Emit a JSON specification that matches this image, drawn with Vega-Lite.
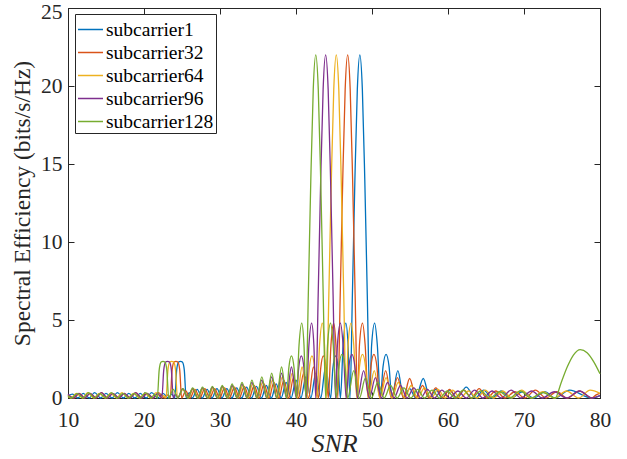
{
  "$schema": "https://vega.github.io/schema/vega-lite/v6.json",
  "width": 532,
  "height": 390,
  "autosize": {"type": "none"},
  "padding": {"left": 68, "top": 8, "right": 27, "bottom": 61},
  "background": "white",
  "config": {
    "font": "Liberation Serif, Times New Roman, Times, serif",
    "view": {"stroke": "#262626", "strokeWidth": 1},
    "axis": {
      "grid": false,
      "domainColor": "#262626",
      "tickColor": "#262626",
      "labelColor": "#262626",
      "titleColor": "#262626",
      "labelFont": "Liberation Serif, Times New Roman, Times, serif",
      "titleFont": "Liberation Serif, Times New Roman, Times, serif",
      "labelFontSize": 21.5,
      "titleFontWeight": "normal",
      "labelFlush": false,
      "labelOverlap": false,
      "tickSize": -6
    },
    "legend": {
      "labelFont": "Liberation Serif, Times New Roman, Times, serif"
    }
  },
  "data": {
    "values": [
      {"s": "subcarrier1", "x": 10, "y": 0.15}, {"s": "subcarrier1", "x": 10.6, "y": 0.25}, {"s": "subcarrier1", "x": 11.3, "y": 0},
      {"s": "subcarrier1", "x": 12.0, "y": 0.3}, {"s": "subcarrier1", "x": 12.8, "y": 0}, {"s": "subcarrier1", "x": 13.5, "y": 0.35},
      {"s": "subcarrier1", "x": 14.3, "y": 0}, {"s": "subcarrier1", "x": 15.0, "y": 0.3}, {"s": "subcarrier1", "x": 15.8, "y": 0},
      {"s": "subcarrier1", "x": 16.5, "y": 0.35}, {"s": "subcarrier1", "x": 17.3, "y": 0}, {"s": "subcarrier1", "x": 18.0, "y": 0.3},
      {"s": "subcarrier1", "x": 18.8, "y": 0}, {"s": "subcarrier1", "x": 19.5, "y": 0.3}, {"s": "subcarrier1", "x": 20.3, "y": 0},
      {"s": "subcarrier1", "x": 21.0, "y": 0.35}, {"s": "subcarrier1", "x": 21.8, "y": 0}, {"s": "subcarrier1", "x": 22.5, "y": 0.3},
      {"s": "subcarrier1", "x": 23.2, "y": 0}, {"s": "subcarrier1", "x": 23.65, "y": 0.25}, {"s": "subcarrier1", "x": 24.05, "y": 0},
      {"s": "subcarrier1", "x": 24.3, "y": 1.8}, {"s": "subcarrier1", "x": 24.55, "y": 2.3}, {"s": "subcarrier1", "x": 24.8, "y": 2.35},
      {"s": "subcarrier1", "x": 25.05, "y": 2.3}, {"s": "subcarrier1", "x": 25.3, "y": 1.8}, {"s": "subcarrier1", "x": 25.55, "y": 0},
      {"s": "subcarrier1", "x": 25.95, "y": 0.35}, {"s": "subcarrier1", "x": 26.35, "y": 0}, {"s": "subcarrier1", "x": 27.0, "y": 0.55},
      {"s": "subcarrier1", "x": 27.65, "y": 0}, {"s": "subcarrier1", "x": 28.3, "y": 0.55}, {"s": "subcarrier1", "x": 28.95, "y": 0},
      {"s": "subcarrier1", "x": 29.6, "y": 0.6}, {"s": "subcarrier1", "x": 30.25, "y": 0}, {"s": "subcarrier1", "x": 30.9, "y": 0.6},
      {"s": "subcarrier1", "x": 31.55, "y": 0}, {"s": "subcarrier1", "x": 32.2, "y": 0.65}, {"s": "subcarrier1", "x": 32.85, "y": 0},
      {"s": "subcarrier1", "x": 33.5, "y": 0.7}, {"s": "subcarrier1", "x": 34.15, "y": 0}, {"s": "subcarrier1", "x": 34.8, "y": 0.75},
      {"s": "subcarrier1", "x": 35.45, "y": 0}, {"s": "subcarrier1", "x": 36.1, "y": 0.8}, {"s": "subcarrier1", "x": 36.75, "y": 0},
      {"s": "subcarrier1", "x": 37.4, "y": 0.9}, {"s": "subcarrier1", "x": 38.05, "y": 0}, {"s": "subcarrier1", "x": 38.7, "y": 1.0},
      {"s": "subcarrier1", "x": 39.35, "y": 0}, {"s": "subcarrier1", "x": 40.0, "y": 1.15}, {"s": "subcarrier1", "x": 40.65, "y": 0},
      {"s": "subcarrier1", "x": 41.3, "y": 1.35}, {"s": "subcarrier1", "x": 41.95, "y": 0}, {"s": "subcarrier1", "x": 42.6, "y": 1.6},
      {"s": "subcarrier1", "x": 43.25, "y": 0}, {"s": "subcarrier1", "x": 43.9, "y": 2.0}, {"s": "subcarrier1", "x": 44.55, "y": 0},
      {"s": "subcarrier1", "x": 44.85, "y": 1.9}, {"s": "subcarrier1", "x": 45.2, "y": 2.7}, {"s": "subcarrier1", "x": 45.55, "y": 1.9},
      {"s": "subcarrier1", "x": 45.85, "y": 0}, {"s": "subcarrier1", "x": 46.2, "y": 3.4}, {"s": "subcarrier1", "x": 46.55, "y": 4.8},
      {"s": "subcarrier1", "x": 46.85, "y": 3.4}, {"s": "subcarrier1", "x": 47.1, "y": 0}, {"s": "subcarrier1", "x": 47.42, "y": 6.6},
      {"s": "subcarrier1", "x": 47.75, "y": 14}, {"s": "subcarrier1", "x": 48.07, "y": 19.8}, {"s": "subcarrier1", "x": 48.4, "y": 22},
      {"s": "subcarrier1", "x": 48.73, "y": 19.8}, {"s": "subcarrier1", "x": 49.05, "y": 14}, {"s": "subcarrier1", "x": 49.38, "y": 6.6},
      {"s": "subcarrier1", "x": 49.7, "y": 0}, {"s": "subcarrier1", "x": 49.95, "y": 3.4}, {"s": "subcarrier1", "x": 50.35, "y": 4.8},
      {"s": "subcarrier1", "x": 50.7, "y": 3.4}, {"s": "subcarrier1", "x": 51.1, "y": 0}, {"s": "subcarrier1", "x": 51.45, "y": 2.0},
      {"s": "subcarrier1", "x": 51.85, "y": 2.8}, {"s": "subcarrier1", "x": 52.25, "y": 2.0}, {"s": "subcarrier1", "x": 52.6, "y": 0},
      {"s": "subcarrier1", "x": 53.4, "y": 1.75}, {"s": "subcarrier1", "x": 54.15, "y": 0}, {"s": "subcarrier1", "x": 54.95, "y": 0.6},
      {"s": "subcarrier1", "x": 55.75, "y": 0}, {"s": "subcarrier1", "x": 56.75, "y": 1.25}, {"s": "subcarrier1", "x": 57.6, "y": 0},
      {"s": "subcarrier1", "x": 58.4, "y": 0.55}, {"s": "subcarrier1", "x": 59.2, "y": 0}, {"s": "subcarrier1", "x": 60.2, "y": 0.5},
      {"s": "subcarrier1", "x": 61.2, "y": 0}, {"s": "subcarrier1", "x": 62.4, "y": 0.7}, {"s": "subcarrier1", "x": 63.6, "y": 0},
      {"s": "subcarrier1", "x": 64.7, "y": 0.5}, {"s": "subcarrier1", "x": 65.8, "y": 0}, {"s": "subcarrier1", "x": 67.0, "y": 0.45},
      {"s": "subcarrier1", "x": 68.3, "y": 0}, {"s": "subcarrier1", "x": 69.8, "y": 0.4}, {"s": "subcarrier1", "x": 71.3, "y": 0},
      {"s": "subcarrier1", "x": 72.7, "y": 0.4}, {"s": "subcarrier1", "x": 74.1, "y": 0}, {"s": "subcarrier1", "x": 76.0, "y": 0.5},
      {"s": "subcarrier1", "x": 78.9, "y": 0}, {"s": "subcarrier1", "x": 80, "y": 0.15},

      {"s": "subcarrier32", "x": 10, "y": 0.2}, {"s": "subcarrier32", "x": 10.8, "y": 0}, {"s": "subcarrier32", "x": 11.5, "y": 0.3},
      {"s": "subcarrier32", "x": 12.2, "y": 0}, {"s": "subcarrier32", "x": 12.9, "y": 0.3}, {"s": "subcarrier32", "x": 13.7, "y": 0},
      {"s": "subcarrier32", "x": 14.4, "y": 0.35}, {"s": "subcarrier32", "x": 15.2, "y": 0}, {"s": "subcarrier32", "x": 15.9, "y": 0.3},
      {"s": "subcarrier32", "x": 16.7, "y": 0}, {"s": "subcarrier32", "x": 17.4, "y": 0.3}, {"s": "subcarrier32", "x": 18.2, "y": 0},
      {"s": "subcarrier32", "x": 18.9, "y": 0.35}, {"s": "subcarrier32", "x": 19.7, "y": 0}, {"s": "subcarrier32", "x": 20.4, "y": 0.3},
      {"s": "subcarrier32", "x": 21.2, "y": 0}, {"s": "subcarrier32", "x": 21.9, "y": 0.35}, {"s": "subcarrier32", "x": 22.7, "y": 0},
      {"s": "subcarrier32", "x": 23.1, "y": 0.2}, {"s": "subcarrier32", "x": 23.45, "y": 0}, {"s": "subcarrier32", "x": 23.7, "y": 1.8},
      {"s": "subcarrier32", "x": 23.95, "y": 2.3}, {"s": "subcarrier32", "x": 24.2, "y": 2.35}, {"s": "subcarrier32", "x": 24.45, "y": 2.3},
      {"s": "subcarrier32", "x": 24.7, "y": 1.8}, {"s": "subcarrier32", "x": 24.95, "y": 0}, {"s": "subcarrier32", "x": 25.5, "y": 0.45},
      {"s": "subcarrier32", "x": 26.05, "y": 0}, {"s": "subcarrier32", "x": 26.7, "y": 0.55}, {"s": "subcarrier32", "x": 27.35, "y": 0},
      {"s": "subcarrier32", "x": 28.0, "y": 0.6}, {"s": "subcarrier32", "x": 28.65, "y": 0}, {"s": "subcarrier32", "x": 29.3, "y": 0.6},
      {"s": "subcarrier32", "x": 29.95, "y": 0}, {"s": "subcarrier32", "x": 30.6, "y": 0.65}, {"s": "subcarrier32", "x": 31.25, "y": 0},
      {"s": "subcarrier32", "x": 31.9, "y": 0.7}, {"s": "subcarrier32", "x": 32.55, "y": 0}, {"s": "subcarrier32", "x": 33.2, "y": 0.75},
      {"s": "subcarrier32", "x": 33.85, "y": 0}, {"s": "subcarrier32", "x": 34.5, "y": 0.8}, {"s": "subcarrier32", "x": 35.15, "y": 0},
      {"s": "subcarrier32", "x": 35.8, "y": 0.9}, {"s": "subcarrier32", "x": 36.45, "y": 0}, {"s": "subcarrier32", "x": 37.1, "y": 1.0},
      {"s": "subcarrier32", "x": 37.75, "y": 0}, {"s": "subcarrier32", "x": 38.4, "y": 1.15}, {"s": "subcarrier32", "x": 39.05, "y": 0},
      {"s": "subcarrier32", "x": 39.7, "y": 1.35}, {"s": "subcarrier32", "x": 40.35, "y": 0}, {"s": "subcarrier32", "x": 41.0, "y": 1.6},
      {"s": "subcarrier32", "x": 41.65, "y": 0}, {"s": "subcarrier32", "x": 42.3, "y": 2.0}, {"s": "subcarrier32", "x": 42.95, "y": 0},
      {"s": "subcarrier32", "x": 43.25, "y": 1.9}, {"s": "subcarrier32", "x": 43.6, "y": 2.7}, {"s": "subcarrier32", "x": 43.95, "y": 1.9},
      {"s": "subcarrier32", "x": 44.25, "y": 0}, {"s": "subcarrier32", "x": 44.6, "y": 3.4}, {"s": "subcarrier32", "x": 44.95, "y": 4.8},
      {"s": "subcarrier32", "x": 45.25, "y": 3.4}, {"s": "subcarrier32", "x": 45.5, "y": 0}, {"s": "subcarrier32", "x": 45.82, "y": 6.6},
      {"s": "subcarrier32", "x": 46.15, "y": 14}, {"s": "subcarrier32", "x": 46.47, "y": 19.8}, {"s": "subcarrier32", "x": 46.8, "y": 22},
      {"s": "subcarrier32", "x": 47.13, "y": 19.8}, {"s": "subcarrier32", "x": 47.45, "y": 14}, {"s": "subcarrier32", "x": 47.78, "y": 6.6},
      {"s": "subcarrier32", "x": 48.1, "y": 0}, {"s": "subcarrier32", "x": 48.35, "y": 3.4}, {"s": "subcarrier32", "x": 48.75, "y": 4.8},
      {"s": "subcarrier32", "x": 49.1, "y": 3.4}, {"s": "subcarrier32", "x": 49.5, "y": 0}, {"s": "subcarrier32", "x": 49.85, "y": 2.0},
      {"s": "subcarrier32", "x": 50.25, "y": 2.8}, {"s": "subcarrier32", "x": 50.65, "y": 2.0}, {"s": "subcarrier32", "x": 51.0, "y": 0},
      {"s": "subcarrier32", "x": 51.8, "y": 1.75}, {"s": "subcarrier32", "x": 52.55, "y": 0}, {"s": "subcarrier32", "x": 53.35, "y": 1.3},
      {"s": "subcarrier32", "x": 54.15, "y": 0}, {"s": "subcarrier32", "x": 54.95, "y": 1.25}, {"s": "subcarrier32", "x": 55.8, "y": 0},
      {"s": "subcarrier32", "x": 56.65, "y": 0.8}, {"s": "subcarrier32", "x": 57.5, "y": 0}, {"s": "subcarrier32", "x": 58.4, "y": 0.65},
      {"s": "subcarrier32", "x": 59.3, "y": 0}, {"s": "subcarrier32", "x": 60.2, "y": 0.55}, {"s": "subcarrier32", "x": 61.1, "y": 0},
      {"s": "subcarrier32", "x": 62.1, "y": 0.5}, {"s": "subcarrier32", "x": 63.1, "y": 0}, {"s": "subcarrier32", "x": 64.1, "y": 0.6},
      {"s": "subcarrier32", "x": 65.1, "y": 0}, {"s": "subcarrier32", "x": 66.3, "y": 0.45}, {"s": "subcarrier32", "x": 67.5, "y": 0},
      {"s": "subcarrier32", "x": 68.8, "y": 0.4}, {"s": "subcarrier32", "x": 70.1, "y": 0}, {"s": "subcarrier32", "x": 71.5, "y": 0.5},
      {"s": "subcarrier32", "x": 72.9, "y": 0}, {"s": "subcarrier32", "x": 74.3, "y": 0.4}, {"s": "subcarrier32", "x": 75.7, "y": 0},
      {"s": "subcarrier32", "x": 77.3, "y": 0.45}, {"s": "subcarrier32", "x": 78.9, "y": 0}, {"s": "subcarrier32", "x": 79.5, "y": 0.2},
      {"s": "subcarrier32", "x": 80, "y": 0.3},

      {"s": "subcarrier64", "x": 10, "y": 0.1}, {"s": "subcarrier64", "x": 10.4, "y": 0}, {"s": "subcarrier64", "x": 11.1, "y": 0.3},
      {"s": "subcarrier64", "x": 11.9, "y": 0}, {"s": "subcarrier64", "x": 12.6, "y": 0.35}, {"s": "subcarrier64", "x": 13.4, "y": 0},
      {"s": "subcarrier64", "x": 14.1, "y": 0.3}, {"s": "subcarrier64", "x": 14.9, "y": 0}, {"s": "subcarrier64", "x": 15.6, "y": 0.3},
      {"s": "subcarrier64", "x": 16.4, "y": 0}, {"s": "subcarrier64", "x": 17.1, "y": 0.35}, {"s": "subcarrier64", "x": 17.9, "y": 0},
      {"s": "subcarrier64", "x": 18.6, "y": 0.3}, {"s": "subcarrier64", "x": 19.4, "y": 0}, {"s": "subcarrier64", "x": 20.1, "y": 0.3},
      {"s": "subcarrier64", "x": 20.9, "y": 0}, {"s": "subcarrier64", "x": 21.6, "y": 0.35}, {"s": "subcarrier64", "x": 22.3, "y": 0},
      {"s": "subcarrier64", "x": 22.6, "y": 0.15}, {"s": "subcarrier64", "x": 22.9, "y": 0}, {"s": "subcarrier64", "x": 23.15, "y": 1.8},
      {"s": "subcarrier64", "x": 23.4, "y": 2.3}, {"s": "subcarrier64", "x": 23.65, "y": 2.35}, {"s": "subcarrier64", "x": 23.9, "y": 2.3},
      {"s": "subcarrier64", "x": 24.15, "y": 1.8}, {"s": "subcarrier64", "x": 24.4, "y": 0}, {"s": "subcarrier64", "x": 25.15, "y": 0.55},
      {"s": "subcarrier64", "x": 25.85, "y": 0}, {"s": "subcarrier64", "x": 26.5, "y": 0.6}, {"s": "subcarrier64", "x": 27.15, "y": 0},
      {"s": "subcarrier64", "x": 27.8, "y": 0.6}, {"s": "subcarrier64", "x": 28.45, "y": 0}, {"s": "subcarrier64", "x": 29.1, "y": 0.65},
      {"s": "subcarrier64", "x": 29.75, "y": 0}, {"s": "subcarrier64", "x": 30.4, "y": 0.7}, {"s": "subcarrier64", "x": 31.05, "y": 0},
      {"s": "subcarrier64", "x": 31.7, "y": 0.75}, {"s": "subcarrier64", "x": 32.35, "y": 0}, {"s": "subcarrier64", "x": 33.0, "y": 0.8},
      {"s": "subcarrier64", "x": 33.65, "y": 0}, {"s": "subcarrier64", "x": 34.3, "y": 0.9}, {"s": "subcarrier64", "x": 34.95, "y": 0},
      {"s": "subcarrier64", "x": 35.6, "y": 1.0}, {"s": "subcarrier64", "x": 36.25, "y": 0}, {"s": "subcarrier64", "x": 36.9, "y": 1.15},
      {"s": "subcarrier64", "x": 37.55, "y": 0}, {"s": "subcarrier64", "x": 38.2, "y": 1.35}, {"s": "subcarrier64", "x": 38.85, "y": 0},
      {"s": "subcarrier64", "x": 39.5, "y": 1.6}, {"s": "subcarrier64", "x": 40.15, "y": 0}, {"s": "subcarrier64", "x": 40.8, "y": 2.0},
      {"s": "subcarrier64", "x": 41.45, "y": 0}, {"s": "subcarrier64", "x": 41.75, "y": 1.9}, {"s": "subcarrier64", "x": 42.1, "y": 2.7},
      {"s": "subcarrier64", "x": 42.45, "y": 1.9}, {"s": "subcarrier64", "x": 42.75, "y": 0}, {"s": "subcarrier64", "x": 43.1, "y": 3.4},
      {"s": "subcarrier64", "x": 43.45, "y": 4.8}, {"s": "subcarrier64", "x": 43.75, "y": 3.4}, {"s": "subcarrier64", "x": 44.0, "y": 0},
      {"s": "subcarrier64", "x": 44.32, "y": 6.6}, {"s": "subcarrier64", "x": 44.65, "y": 14}, {"s": "subcarrier64", "x": 44.97, "y": 19.8},
      {"s": "subcarrier64", "x": 45.3, "y": 22}, {"s": "subcarrier64", "x": 45.63, "y": 19.8}, {"s": "subcarrier64", "x": 45.95, "y": 14},
      {"s": "subcarrier64", "x": 46.28, "y": 6.6}, {"s": "subcarrier64", "x": 46.6, "y": 0}, {"s": "subcarrier64", "x": 46.85, "y": 3.4},
      {"s": "subcarrier64", "x": 47.25, "y": 4.8}, {"s": "subcarrier64", "x": 47.6, "y": 3.4}, {"s": "subcarrier64", "x": 48.0, "y": 0},
      {"s": "subcarrier64", "x": 48.35, "y": 2.0}, {"s": "subcarrier64", "x": 48.75, "y": 2.8}, {"s": "subcarrier64", "x": 49.15, "y": 2.0},
      {"s": "subcarrier64", "x": 49.5, "y": 0}, {"s": "subcarrier64", "x": 50.3, "y": 1.75}, {"s": "subcarrier64", "x": 51.05, "y": 0},
      {"s": "subcarrier64", "x": 51.85, "y": 1.3}, {"s": "subcarrier64", "x": 52.65, "y": 0}, {"s": "subcarrier64", "x": 53.45, "y": 1.0},
      {"s": "subcarrier64", "x": 54.3, "y": 0}, {"s": "subcarrier64", "x": 55.15, "y": 0.8}, {"s": "subcarrier64", "x": 56.0, "y": 0},
      {"s": "subcarrier64", "x": 56.9, "y": 0.65}, {"s": "subcarrier64", "x": 57.8, "y": 0}, {"s": "subcarrier64", "x": 58.7, "y": 0.55},
      {"s": "subcarrier64", "x": 59.6, "y": 0}, {"s": "subcarrier64", "x": 60.6, "y": 0.5}, {"s": "subcarrier64", "x": 61.6, "y": 0},
      {"s": "subcarrier64", "x": 62.7, "y": 0.45}, {"s": "subcarrier64", "x": 63.8, "y": 0}, {"s": "subcarrier64", "x": 64.9, "y": 0.5},
      {"s": "subcarrier64", "x": 66.0, "y": 0}, {"s": "subcarrier64", "x": 67.2, "y": 0.45}, {"s": "subcarrier64", "x": 68.4, "y": 0},
      {"s": "subcarrier64", "x": 69.7, "y": 0.5}, {"s": "subcarrier64", "x": 71.0, "y": 0}, {"s": "subcarrier64", "x": 72.5, "y": 0.4},
      {"s": "subcarrier64", "x": 74.0, "y": 0}, {"s": "subcarrier64", "x": 75.6, "y": 0.45}, {"s": "subcarrier64", "x": 77.2, "y": 0},
      {"s": "subcarrier64", "x": 78.7, "y": 0.5}, {"s": "subcarrier64", "x": 80, "y": 0.3},

      {"s": "subcarrier96", "x": 10, "y": 0.25}, {"s": "subcarrier96", "x": 10.7, "y": 0}, {"s": "subcarrier96", "x": 11.4, "y": 0.3},
      {"s": "subcarrier96", "x": 12.2, "y": 0}, {"s": "subcarrier96", "x": 12.9, "y": 0.3}, {"s": "subcarrier96", "x": 13.7, "y": 0},
      {"s": "subcarrier96", "x": 14.4, "y": 0.35}, {"s": "subcarrier96", "x": 15.2, "y": 0}, {"s": "subcarrier96", "x": 15.9, "y": 0.3},
      {"s": "subcarrier96", "x": 16.7, "y": 0}, {"s": "subcarrier96", "x": 17.4, "y": 0.3}, {"s": "subcarrier96", "x": 18.2, "y": 0},
      {"s": "subcarrier96", "x": 18.9, "y": 0.35}, {"s": "subcarrier96", "x": 19.7, "y": 0}, {"s": "subcarrier96", "x": 20.4, "y": 0.3},
      {"s": "subcarrier96", "x": 21.2, "y": 0}, {"s": "subcarrier96", "x": 21.8, "y": 0.3}, {"s": "subcarrier96", "x": 22.35, "y": 0},
      {"s": "subcarrier96", "x": 22.6, "y": 1.8}, {"s": "subcarrier96", "x": 22.85, "y": 2.3}, {"s": "subcarrier96", "x": 23.1, "y": 2.35},
      {"s": "subcarrier96", "x": 23.35, "y": 2.3}, {"s": "subcarrier96", "x": 23.6, "y": 1.8}, {"s": "subcarrier96", "x": 23.85, "y": 0},
      {"s": "subcarrier96", "x": 24.15, "y": 0.25}, {"s": "subcarrier96", "x": 24.45, "y": 0}, {"s": "subcarrier96", "x": 25.1, "y": 0.6},
      {"s": "subcarrier96", "x": 25.75, "y": 0}, {"s": "subcarrier96", "x": 26.4, "y": 0.6}, {"s": "subcarrier96", "x": 27.05, "y": 0},
      {"s": "subcarrier96", "x": 27.7, "y": 0.65}, {"s": "subcarrier96", "x": 28.35, "y": 0}, {"s": "subcarrier96", "x": 29.0, "y": 0.7},
      {"s": "subcarrier96", "x": 29.65, "y": 0}, {"s": "subcarrier96", "x": 30.3, "y": 0.75}, {"s": "subcarrier96", "x": 30.95, "y": 0},
      {"s": "subcarrier96", "x": 31.6, "y": 0.8}, {"s": "subcarrier96", "x": 32.25, "y": 0}, {"s": "subcarrier96", "x": 32.9, "y": 0.9},
      {"s": "subcarrier96", "x": 33.55, "y": 0}, {"s": "subcarrier96", "x": 34.2, "y": 1.0}, {"s": "subcarrier96", "x": 34.85, "y": 0},
      {"s": "subcarrier96", "x": 35.5, "y": 1.15}, {"s": "subcarrier96", "x": 36.15, "y": 0}, {"s": "subcarrier96", "x": 36.8, "y": 1.35},
      {"s": "subcarrier96", "x": 37.45, "y": 0}, {"s": "subcarrier96", "x": 38.1, "y": 1.6}, {"s": "subcarrier96", "x": 38.75, "y": 0},
      {"s": "subcarrier96", "x": 39.4, "y": 2.0}, {"s": "subcarrier96", "x": 40.05, "y": 0}, {"s": "subcarrier96", "x": 40.35, "y": 1.9},
      {"s": "subcarrier96", "x": 40.7, "y": 2.7}, {"s": "subcarrier96", "x": 41.05, "y": 1.9}, {"s": "subcarrier96", "x": 41.35, "y": 0},
      {"s": "subcarrier96", "x": 41.7, "y": 3.4}, {"s": "subcarrier96", "x": 42.05, "y": 4.8}, {"s": "subcarrier96", "x": 42.35, "y": 3.4},
      {"s": "subcarrier96", "x": 42.6, "y": 0}, {"s": "subcarrier96", "x": 42.92, "y": 6.6}, {"s": "subcarrier96", "x": 43.25, "y": 14},
      {"s": "subcarrier96", "x": 43.57, "y": 19.8}, {"s": "subcarrier96", "x": 43.9, "y": 22}, {"s": "subcarrier96", "x": 44.23, "y": 19.8},
      {"s": "subcarrier96", "x": 44.55, "y": 14}, {"s": "subcarrier96", "x": 44.88, "y": 6.6}, {"s": "subcarrier96", "x": 45.2, "y": 0},
      {"s": "subcarrier96", "x": 45.45, "y": 3.4}, {"s": "subcarrier96", "x": 45.85, "y": 4.8}, {"s": "subcarrier96", "x": 46.2, "y": 3.4},
      {"s": "subcarrier96", "x": 46.6, "y": 0}, {"s": "subcarrier96", "x": 46.95, "y": 2.0}, {"s": "subcarrier96", "x": 47.35, "y": 2.8},
      {"s": "subcarrier96", "x": 47.75, "y": 2.0}, {"s": "subcarrier96", "x": 48.1, "y": 0}, {"s": "subcarrier96", "x": 48.9, "y": 1.75},
      {"s": "subcarrier96", "x": 49.65, "y": 0}, {"s": "subcarrier96", "x": 50.45, "y": 1.3}, {"s": "subcarrier96", "x": 51.25, "y": 0},
      {"s": "subcarrier96", "x": 52.05, "y": 1.0}, {"s": "subcarrier96", "x": 52.9, "y": 0}, {"s": "subcarrier96", "x": 53.75, "y": 0.8},
      {"s": "subcarrier96", "x": 54.6, "y": 0}, {"s": "subcarrier96", "x": 55.5, "y": 0.65}, {"s": "subcarrier96", "x": 56.4, "y": 0},
      {"s": "subcarrier96", "x": 57.3, "y": 0.55}, {"s": "subcarrier96", "x": 58.2, "y": 0}, {"s": "subcarrier96", "x": 59.2, "y": 0.5},
      {"s": "subcarrier96", "x": 60.2, "y": 0}, {"s": "subcarrier96", "x": 61.3, "y": 0.45}, {"s": "subcarrier96", "x": 62.4, "y": 0},
      {"s": "subcarrier96", "x": 63.5, "y": 0.5}, {"s": "subcarrier96", "x": 64.6, "y": 0}, {"s": "subcarrier96", "x": 65.8, "y": 0.45},
      {"s": "subcarrier96", "x": 67.0, "y": 0}, {"s": "subcarrier96", "x": 68.3, "y": 0.5}, {"s": "subcarrier96", "x": 69.6, "y": 0},
      {"s": "subcarrier96", "x": 71.0, "y": 0.45}, {"s": "subcarrier96", "x": 72.4, "y": 0}, {"s": "subcarrier96", "x": 74.0, "y": 0.4},
      {"s": "subcarrier96", "x": 75.6, "y": 0}, {"s": "subcarrier96", "x": 77.3, "y": 0.45}, {"s": "subcarrier96", "x": 79.0, "y": 0},
      {"s": "subcarrier96", "x": 80, "y": 0.15},

      {"s": "subcarrier128", "x": 10, "y": 0.15}, {"s": "subcarrier128", "x": 10.5, "y": 0}, {"s": "subcarrier128", "x": 11.2, "y": 0.3},
      {"s": "subcarrier128", "x": 12.0, "y": 0}, {"s": "subcarrier128", "x": 12.7, "y": 0.35}, {"s": "subcarrier128", "x": 13.5, "y": 0},
      {"s": "subcarrier128", "x": 14.2, "y": 0.3}, {"s": "subcarrier128", "x": 15.0, "y": 0}, {"s": "subcarrier128", "x": 15.7, "y": 0.35},
      {"s": "subcarrier128", "x": 16.5, "y": 0}, {"s": "subcarrier128", "x": 17.2, "y": 0.3}, {"s": "subcarrier128", "x": 18.0, "y": 0},
      {"s": "subcarrier128", "x": 18.7, "y": 0.3}, {"s": "subcarrier128", "x": 19.5, "y": 0}, {"s": "subcarrier128", "x": 20.2, "y": 0.35},
      {"s": "subcarrier128", "x": 21.0, "y": 0}, {"s": "subcarrier128", "x": 21.4, "y": 0.25}, {"s": "subcarrier128", "x": 21.75, "y": 0},
      {"s": "subcarrier128", "x": 22.0, "y": 1.8}, {"s": "subcarrier128", "x": 22.25, "y": 2.3}, {"s": "subcarrier128", "x": 22.5, "y": 2.35},
      {"s": "subcarrier128", "x": 22.75, "y": 2.3}, {"s": "subcarrier128", "x": 23.0, "y": 1.8}, {"s": "subcarrier128", "x": 23.25, "y": 0},
      {"s": "subcarrier128", "x": 23.85, "y": 0.55}, {"s": "subcarrier128", "x": 24.45, "y": 0}, {"s": "subcarrier128", "x": 25.1, "y": 0.6},
      {"s": "subcarrier128", "x": 25.75, "y": 0}, {"s": "subcarrier128", "x": 26.4, "y": 0.65}, {"s": "subcarrier128", "x": 27.05, "y": 0},
      {"s": "subcarrier128", "x": 27.7, "y": 0.7}, {"s": "subcarrier128", "x": 28.35, "y": 0}, {"s": "subcarrier128", "x": 29.0, "y": 0.75},
      {"s": "subcarrier128", "x": 29.65, "y": 0}, {"s": "subcarrier128", "x": 30.3, "y": 0.8}, {"s": "subcarrier128", "x": 30.95, "y": 0},
      {"s": "subcarrier128", "x": 31.6, "y": 0.9}, {"s": "subcarrier128", "x": 32.25, "y": 0}, {"s": "subcarrier128", "x": 32.9, "y": 1.0},
      {"s": "subcarrier128", "x": 33.55, "y": 0}, {"s": "subcarrier128", "x": 34.2, "y": 1.15}, {"s": "subcarrier128", "x": 34.85, "y": 0},
      {"s": "subcarrier128", "x": 35.5, "y": 1.35}, {"s": "subcarrier128", "x": 36.15, "y": 0}, {"s": "subcarrier128", "x": 36.8, "y": 1.6},
      {"s": "subcarrier128", "x": 37.45, "y": 0}, {"s": "subcarrier128", "x": 38.1, "y": 2.0}, {"s": "subcarrier128", "x": 38.75, "y": 0},
      {"s": "subcarrier128", "x": 39.05, "y": 1.9}, {"s": "subcarrier128", "x": 39.4, "y": 2.7}, {"s": "subcarrier128", "x": 39.75, "y": 1.9},
      {"s": "subcarrier128", "x": 40.05, "y": 0}, {"s": "subcarrier128", "x": 40.4, "y": 3.4}, {"s": "subcarrier128", "x": 40.75, "y": 4.8},
      {"s": "subcarrier128", "x": 41.05, "y": 3.4}, {"s": "subcarrier128", "x": 41.3, "y": 0}, {"s": "subcarrier128", "x": 41.62, "y": 6.6},
      {"s": "subcarrier128", "x": 41.95, "y": 14}, {"s": "subcarrier128", "x": 42.27, "y": 19.8}, {"s": "subcarrier128", "x": 42.6, "y": 22},
      {"s": "subcarrier128", "x": 42.93, "y": 19.8}, {"s": "subcarrier128", "x": 43.25, "y": 14}, {"s": "subcarrier128", "x": 43.58, "y": 6.6},
      {"s": "subcarrier128", "x": 43.9, "y": 0}, {"s": "subcarrier128", "x": 44.15, "y": 3.4}, {"s": "subcarrier128", "x": 44.55, "y": 4.8},
      {"s": "subcarrier128", "x": 44.9, "y": 3.4}, {"s": "subcarrier128", "x": 45.3, "y": 0}, {"s": "subcarrier128", "x": 45.65, "y": 2.0},
      {"s": "subcarrier128", "x": 46.05, "y": 2.8}, {"s": "subcarrier128", "x": 46.45, "y": 2.0}, {"s": "subcarrier128", "x": 46.8, "y": 0},
      {"s": "subcarrier128", "x": 47.6, "y": 1.75}, {"s": "subcarrier128", "x": 48.35, "y": 0}, {"s": "subcarrier128", "x": 49.15, "y": 1.3},
      {"s": "subcarrier128", "x": 49.95, "y": 0}, {"s": "subcarrier128", "x": 50.75, "y": 1.0}, {"s": "subcarrier128", "x": 51.6, "y": 0},
      {"s": "subcarrier128", "x": 52.45, "y": 0.8}, {"s": "subcarrier128", "x": 53.3, "y": 0}, {"s": "subcarrier128", "x": 54.2, "y": 0.65},
      {"s": "subcarrier128", "x": 55.1, "y": 0}, {"s": "subcarrier128", "x": 56.0, "y": 0.55}, {"s": "subcarrier128", "x": 56.9, "y": 0},
      {"s": "subcarrier128", "x": 57.9, "y": 0.5}, {"s": "subcarrier128", "x": 58.9, "y": 0}, {"s": "subcarrier128", "x": 59.9, "y": 0.45},
      {"s": "subcarrier128", "x": 60.9, "y": 0}, {"s": "subcarrier128", "x": 62.0, "y": 0.5}, {"s": "subcarrier128", "x": 63.1, "y": 0},
      {"s": "subcarrier128", "x": 64.3, "y": 0.45}, {"s": "subcarrier128", "x": 65.5, "y": 0}, {"s": "subcarrier128", "x": 66.8, "y": 0.4},
      {"s": "subcarrier128", "x": 68.1, "y": 0}, {"s": "subcarrier128", "x": 69.5, "y": 0.45}, {"s": "subcarrier128", "x": 70.9, "y": 0},
      {"s": "subcarrier128", "x": 72.5, "y": 0.35}, {"s": "subcarrier128", "x": 74.1, "y": 0}, {"s": "subcarrier128", "x": 74.9, "y": 1.0},
      {"s": "subcarrier128", "x": 75.7, "y": 2.0}, {"s": "subcarrier128", "x": 76.5, "y": 2.75}, {"s": "subcarrier128", "x": 77.4, "y": 3.1},
      {"s": "subcarrier128", "x": 78.3, "y": 2.9}, {"s": "subcarrier128", "x": 79.2, "y": 2.3}, {"s": "subcarrier128", "x": 80, "y": 1.55}
    ]
  },
  "layer": [
    {
      "mark": {"type": "line", "interpolate": "monotone", "strokeWidth": 1.3},
      "encoding": {
        "x": {
          "field": "x",
          "type": "quantitative",
          "scale": {"domain": [10, 80], "nice": false},
          "axis": {
            "values": [10, 20, 30, 40, 50, 60, 70, 80],
            "title": "SNR",
            "titleFontStyle": "italic",
            "titleFontSize": 26,
            "labelPadding": 17,
            "titlePadding": 0
          }
        },
        "y": {
          "field": "y",
          "type": "quantitative",
          "scale": {"domain": [0, 25], "nice": false},
          "axis": {
            "values": [0, 5, 10, 15, 20, 25],
            "title": "Spectral Efficiency (bits/s/Hz)",
            "titleFontSize": 23.5,
            "labelPadding": 12,
            "titlePadding": 6,
            "labelOffset": {"condition": {"test": "datum.value === 25", "value": 4}, "value": 0}
          }
        },
        "color": {
          "field": "s",
          "type": "nominal",
          "scale": {
            "domain": ["subcarrier1", "subcarrier32", "subcarrier64", "subcarrier96", "subcarrier128"],
            "range": ["#0072BD", "#D95319", "#EDB120", "#7E2F8E", "#77AC30"]
          },
          "legend": {
            "title": null,
            "orient": "none",
            "legendX": 7,
            "legendY": 6,
            "fillColor": "white",
            "strokeColor": "#262626",
            "padding": 2,
            "symbolType": "stroke",
            "symbolSize": 625,
            "symbolStrokeWidth": 1.5,
            "labelFontSize": 19.5,
            "labelColor": "#000000",
            "labelOffset": 2,
            "rowPadding": -0.5
          }
        }
      }
    },
    {
      "mark": {"type": "point", "opacity": 0},
      "encoding": {
        "x": {
          "field": "x",
          "type": "quantitative",
          "axis": {"orient": "top", "values": [10, 20, 30, 40, 50, 60, 70, 80], "labels": false, "title": null}
        },
        "y": {
          "field": "y",
          "type": "quantitative",
          "axis": {"orient": "right", "values": [0, 5, 10, 15, 20, 25], "labels": false, "title": null}
        }
      }
    }
  ],
  "resolve": {"axis": {"x": "independent", "y": "independent"}}
}
